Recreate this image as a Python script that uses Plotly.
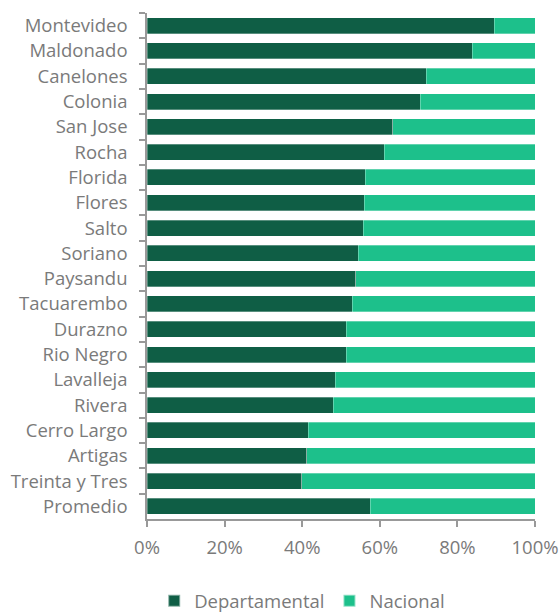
import plotly.graph_objects as go

categories = ["Montevideo", "Maldonado", "Canelones", "Colonia", "San Jose", "Rocha",
              "Florida", "Flores", "Salto", "Soriano", "Paysandu", "Tacuarembo",
              "Durazno", "Rio Negro", "Lavalleja", "Rivera", "Cerro Largo", "Artigas",
              "Treinta y Tres", "Promedio"]
departamental = [89.5, 83.8, 72.0, 70.4, 63.4, 61.2, 56.3, 56.0, 55.7, 54.5, 53.8, 52.9,
                 51.4, 51.3, 48.5, 48.0, 41.6, 41.2, 39.9, 57.5]
nacional = [round(100 - v, 1) for v in departamental]
x_ticks = [0, 20, 40, 60, 80, 100]
x_tick_labels = ["0%", "20%", "40%", "60%", "80%", "100%"]

dark = "#0f5e45"
light = "#1dc08b"
font_color = "#7a7a7a"
axis_color = "#999999"

fig = go.Figure()
fig.add_trace(go.Bar(y=categories, x=departamental, name="Departamental", orientation="h",
                     marker=dict(color=dark, line=dict(color="rgba(255,255,255,0.5)", width=0.6))))
fig.add_trace(go.Bar(y=categories, x=nacional, name="Nacional", orientation="h",
                     marker=dict(color=light, line=dict(color="rgba(255,255,255,0.5)", width=0.6))))

fig.update_layout(
    barmode="stack",
    bargap=0.37,
    width=560, height=614,
    margin=dict(l=147, r=25, t=13, b=95, autoexpand=False),
    paper_bgcolor="white", plot_bgcolor="white",
    font=dict(family="Open Sans", size=18.5, color=font_color),
    showlegend=True,
    legend=dict(orientation="h", x=0.40, xanchor="center", y=-0.125, yanchor="top",
                font=dict(size=18.5, color=font_color), traceorder="normal",
                itemsizing="constant", tracegroupgap=0),
    xaxis=dict(range=[0, 100], tickvals=x_ticks, ticktext=x_tick_labels, automargin=False,
               showgrid=False, zeroline=False, showline=True, linecolor=axis_color, linewidth=1.5,
               ticks="outside", ticklen=6, tickcolor=axis_color, tickwidth=1.5,
               ticklabelstandoff=5,
               tickfont=dict(size=18.5, color=font_color)),
    yaxis=dict(autorange="reversed", showgrid=False, zeroline=False, automargin=False,
               showline=True, linecolor=axis_color, linewidth=1.5,
               ticks="outside", ticklen=6, tickcolor=axis_color, tickwidth=1.5,
               tickson="boundaries", ticklabelstandoff=14,
               tickfont=dict(size=18.5, color=font_color)),
)

fig.write_html("out.html", config={"displayModeBar": False},
               post_script="document.body.style.margin='0';document.body.style.overflow='hidden';")
